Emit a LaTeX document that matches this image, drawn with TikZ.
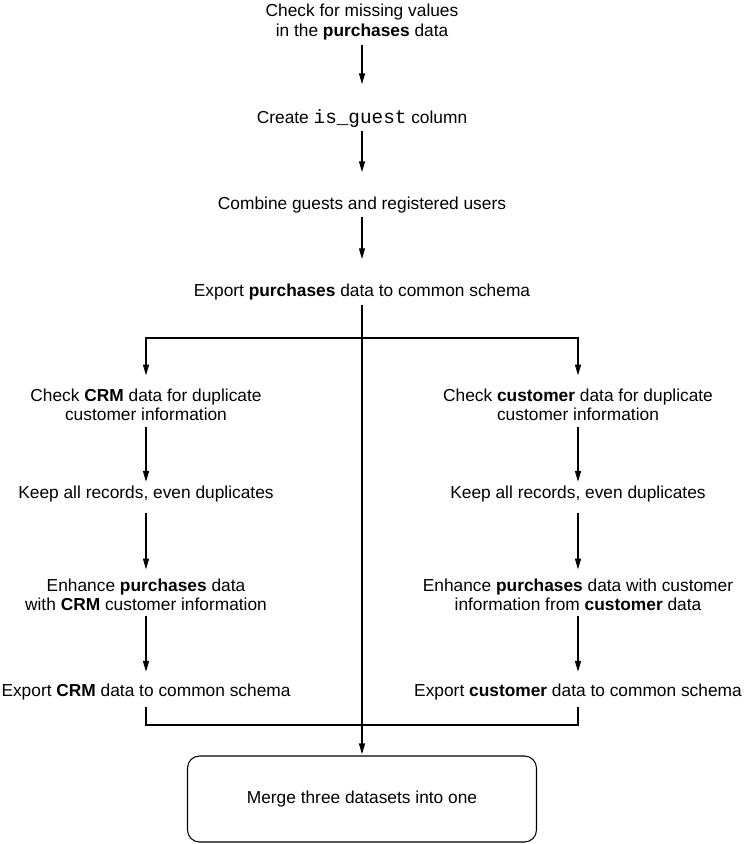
\documentclass[tikz,border=0pt]{standalone}
\usepackage{fontspec}
\setmainfont{Liberation Sans}
\setmonofont{Liberation Mono}
\usetikzlibrary{arrows.meta,positioning}
\newcommand{\colname}[1]{{\fontsize{14.5}{14.6}\selectfont\ttfamily #1}}

\begin{document}
\begin{tikzpicture}[x=0.75pt, y=-0.75pt,
    stepbox/.style={align=center, font=\fontsize{13}{14.6}\selectfont, inner sep=1pt},
    mergebox/.style={stepbox, draw, rounded corners=9pt, line width=0.8pt,
        minimum width=261.75pt, minimum height=64.5pt},
    arrow/.style={-{Triangle[length=8pt,width=4.5pt]}, line width=0.8pt},
    link/.style={line width=0.8pt}
]
    \useasboundingbox (0,0) rectangle (747,844);

    % main chain
    \node[stepbox] (missing) at (362,22) {Check for missing values\\in the \textbf{purchases} data};
    \node[stepbox] (guest) at (362,118) {Create \colname{is\_guest} column};
    \node[stepbox] (combine) at (362,205) {Combine guests and registered users};
    \node[stepbox] (export) at (362,292) {Export \textbf{purchases} data to common schema};
    \coordinate (split) at (362,338);
    \coordinate (join) at (362,725);

    % CRM branch
    \node[stepbox] (crmcheck) at (146,405) {Check \textbf{CRM} data for duplicate\\customer information};
    \node[stepbox] (crmkeep) at (146,494) {Keep all records, even duplicates};
    \node[stepbox] (crmenhance) at (146,595) {Enhance \textbf{purchases} data\\with \textbf{CRM} customer information};
    \node[stepbox] (crmexport) at (146,692) {Export \textbf{CRM} data to common schema};

    % customer branch
    \node[stepbox] (custcheck) at (578,405) {Check \textbf{customer} data for duplicate\\customer information};
    \node[stepbox] (custkeep) at (578,494) {Keep all records, even duplicates};
    \node[stepbox] (custenhance) at (578,595) {Enhance \textbf{purchases} data with customer\\information from \textbf{customer} data};
    \node[stepbox] (custexport) at (578,692) {Export \textbf{customer} data to common schema};

    \node[mergebox] (merge) at (362,799) {Merge three datasets into one};

    \draw[arrow, shorten <=3pt, shorten >=17.5pt] (missing) -- (guest);
    \draw[arrow, shorten <=2pt, shorten >=17.5pt] (guest) -- (combine);
    \draw[arrow, shorten <=2pt, shorten >=17.5pt] (combine) -- (export);
    \draw[arrow, shorten <=2.5pt, shorten >=1pt] (export) -- (merge);

    \draw[arrow, shorten >=9pt] (split) -| (crmcheck);
    \draw[arrow, shorten >=9pt] (split) -| (custcheck);

    \foreach \col in {crm, cust} {
        \draw[arrow, shorten <=3.5pt, shorten >=2pt] (\col check) -- (\col keep);
        \draw[arrow, shorten <=7pt, shorten >=6pt] (\col keep) -- (\col enhance);
        \draw[arrow, shorten <=2.25pt, shorten >=8pt] (\col enhance) -- (\col export);
    }

    \draw[link, shorten <=4pt, shorten >=4pt] (crmexport) |- (join) -| (custexport);
\end{tikzpicture}
\end{document}
